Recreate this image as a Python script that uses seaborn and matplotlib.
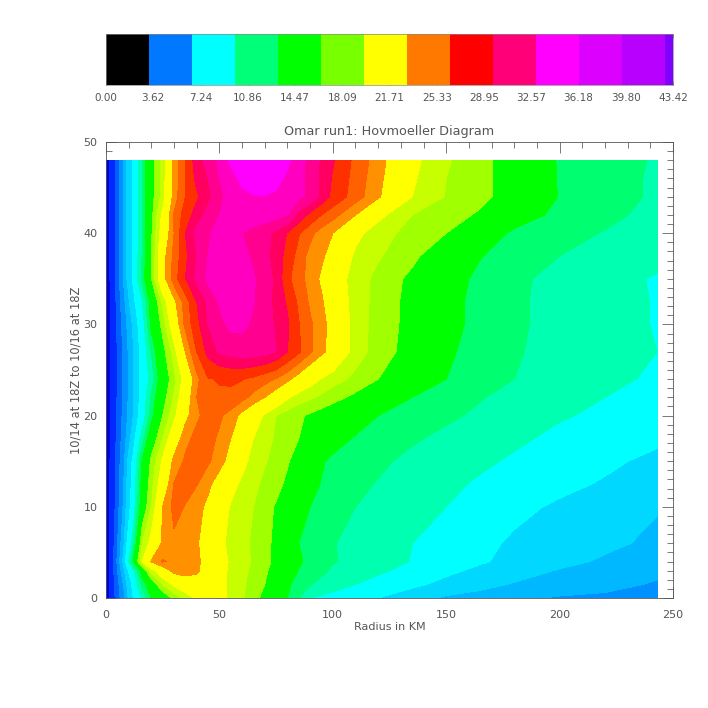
import matplotlib
matplotlib.use("Agg")
import matplotlib.pyplot as plt
from matplotlib.colors import ListedColormap
from matplotlib.ticker import MultipleLocator
import numpy as np
import seaborn as sns

# radius (km) and time columns of the table
radius = [0, 4, 8, 12, 16, 20, 25, 30, 35, 40, 45, 50, 55, 60, 65, 70, 75, 80, 85, 90, 95, 100,
          110, 120, 135, 150, 165, 180, 200, 220, 243]
times = [0, 1.5, 3, 4, 6, 10, 12.5, 15, 17.5, 20, 22, 24, 27, 30, 32.5, 35, 37.5, 40, 42, 44, 46, 48]

t00 = [0.3, 2.0, 3.8, 6.5, 9.5, 12.7, 14.7, 16.8, 18.6, 20.4, 21.2, 20.8, 19.3, 18.3, 17.0, 15.7, 14.2, 12.7, 10.9, 9.0, 8.6, 8.2, 7.4, 6.5, 5.5, 4.8, 4.5, 4.2, 3.9, 3.8, 3.6]
t01 = [0.3, 2.1, 4.2, 7.0, 11.5, 14.7, 18.1, 20.5, 21.8, 22.3, 21.7, 20.7, 19.5, 18.4, 17.4, 16.3, 14.7, 13.0, 12.0, 11.0, 10.5, 10.0, 9.0, 8.2, 6.9, 6.0, 5.4, 4.9, 4.6, 4.3, 3.9]
t03 = [0.3, 2.3, 4.9, 8.5, 14.2, 19.0, 22.0, 24.3, 24.6, 23.9, 22.3, 20.7, 19.5, 18.6, 17.7, 16.7, 15.3, 13.8, 12.6, 11.8, 11.2, 10.7, 10.0, 9.4, 8.2, 6.9, 6.1, 5.6, 4.9, 4.6, 4.2]
t04 = [0.3, 2.4, 5.5, 12.7, 19.9, 23.7, 25.5, 24.9, 24.6, 24.0, 22.4, 20.9, 19.6, 18.7, 17.9, 16.9, 15.8, 14.4, 13.0, 12.2, 11.5, 11.0, 10.5, 10.0, 8.9, 7.8, 6.7, 6.0, 5.4, 4.8, 4.2]
t06 = [0.3, 2.2, 5.0, 10.0, 18.1, 20.7, 23.9, 24.9, 24.6, 23.8, 22.0, 20.5, 19.3, 18.6, 17.8, 16.9, 15.8, 14.2, 12.7, 12.0, 11.4, 11.0, 10.4, 9.9, 9.0, 8.0, 7.0, 6.2, 5.8, 5.3, 4.7]
t10 = [0.3, 2.0, 4.3, 7.6, 14.5, 18.1, 23.5, 25.9, 25.2, 24.2, 23.0, 21.3, 19.7, 18.9, 18.1, 17.0, 16.1, 15.0, 14.0, 12.7, 12.2, 11.8, 10.9, 10.4, 9.7, 9.0, 8.0, 7.0, 6.2, 5.7, 5.1]
t12 = [0.3, 1.95, 4.1, 7.2, 13.7, 17.5, 21.5, 25.4, 26.0, 25.4, 24.0, 22.4, 20.7, 19.5, 18.6, 17.6, 16.9, 15.9, 14.8, 13.4, 12.6, 12.1, 11.3, 10.8, 10.1, 9.5, 8.7, 7.9, 7.0, 6.3, 5.5]
t15 = [0.3, 1.9, 3.9, 6.9, 12.9, 16.8, 20.3, 24.1, 25.6, 26.0, 25.6, 24.3, 22.6, 20.6, 19.2, 18.3, 17.4, 16.5, 15.4, 14.0, 12.9, 12.3, 11.7, 11.2, 10.5, 9.9, 9.4, 8.7, 7.7, 6.9, 6.0]
t17 = [0.3, 1.8, 3.6, 5.6, 10.0, 14.7, 18.1, 21.7, 24.8, 25.8, 25.9, 25.0, 23.5, 21.7, 19.9, 18.8, 17.8, 17.0, 16.3, 15.4, 14.5, 13.6, 12.5, 11.9, 11.1, 10.5, 9.9, 9.4, 8.5, 7.7, 6.9]
t20 = [0.3, 1.7, 3.4, 5.0, 7.6, 12.0, 16.3, 19.3, 22.8, 25.0, 25.9, 25.6, 24.6, 22.9, 21.3, 19.6, 18.1, 17.2, 16.6, 16.0, 15.4, 14.9, 13.8, 12.7, 12.0, 11.2, 10.6, 10.0, 9.2, 8.6, 7.8]
t22 = [0.3, 1.65, 3.3, 4.9, 7.3, 11.2, 15.3, 18.3, 21.9, 25.3, 26.5, 26.9, 26.8, 25.9, 24.7, 23.5, 22.1, 20.2, 19.0, 18.4, 17.7, 17.0, 15.8, 14.7, 12.7, 11.7, 11.0, 10.4, 9.5, 9.0, 8.3]
t24 = [0.3, 1.6, 3.3, 4.9, 7.2, 9.8, 14.5, 17.5, 21.0, 24.8, 27.0, 27.2, 27.3, 27.2, 26.7, 26.0, 25.2, 24.0, 22.5, 21.0, 19.8, 18.9, 17.6, 16.3, 14.5, 12.7, 11.8, 10.9, 9.9, 9.3, 8.8]
t27 = [0.3, 1.6, 3.3, 4.9, 7.2, 11.0, 15.5, 19.0, 23.6, 27.1, 29.6, 31.0, 31.5, 31.8, 31.8, 31.5, 30.8, 29.0, 27.4, 25.6, 24.0, 22.6, 19.0, 17.3, 15.4, 13.0, 12.0, 11.1, 10.2, 9.5, 9.0]
t30 = [0.3, 1.7, 3.5, 5.2, 7.7, 13.4, 17.0, 21.7, 25.8, 28.4, 30.8, 32.1, 33.0, 33.0, 32.3, 31.7, 30.5, 29.3, 27.2, 25.6, 24.3, 22.5, 19.0, 17.4, 15.6, 13.5, 12.0, 11.2, 10.3, 9.6, 8.9]
t32 = [0.3, 1.8, 3.8, 5.9, 8.9, 13.8, 18.5, 23.0, 26.2, 29.0, 31.2, 32.8, 33.6, 33.5, 32.7, 31.7, 30.2, 28.7, 26.7, 25.0, 23.8, 21.9, 19.0, 17.5, 15.6, 13.5, 12.0, 11.2, 10.3, 9.6, 8.9]
t35 = [0.3, 1.9, 4.2, 6.8, 11.5, 16.2, 22.5, 26.2, 29.0, 31.2, 33.0, 33.8, 34.0, 33.8, 32.8, 31.6, 30.4, 27.6, 25.9, 24.7, 23.1, 21.3, 19.0, 17.6, 15.8, 13.7, 12.2, 11.3, 10.3, 9.7, 8.8]
t37 = [0.3, 1.9, 4.2, 6.8, 11.0, 16.0, 22.6, 25.8, 28.6, 30.8, 32.6, 33.4, 33.6, 33.2, 32.2, 31.4, 29.9, 28.4, 26.3, 24.7, 23.9, 22.5, 19.5, 18.3, 16.8, 14.6, 12.8, 11.9, 10.9, 10.2, 9.6]
t40 = [0.3, 1.9, 4.2, 6.8, 10.8, 16.0, 21.3, 25.3, 29.0, 31.4, 32.4, 33.2, 33.2, 32.6, 32.0, 31.4, 30.3, 28.9, 27.3, 25.8, 24.5, 23.5, 20.5, 18.9, 17.4, 16.3, 14.1, 12.3, 11.5, 10.8, 10.2]
t42 = [0.3, 1.9, 4.2, 6.8, 10.8, 15.7, 20.5, 25.5, 28.0, 29.8, 31.5, 32.6, 33.5, 33.6, 33.8, 33.6, 33.3, 32.6, 30.3, 28.5, 27.1, 26.0, 23.5, 20.5, 18.1, 17.2, 16.0, 13.9, 12.1, 11.3, 10.4]
t44 = [0.3, 1.9, 4.2, 6.8, 10.8, 15.5, 18.8, 24.4, 27.1, 28.7, 30.2, 32.2, 33.2, 34.0, 34.3, 34.3, 34.1, 33.7, 33.0, 32.2, 30.2, 28.5, 26.2, 23.8, 19.9, 18.0, 16.9, 15.2, 12.6, 11.7, 10.6]
t46 = [0.3, 1.9, 4.2, 6.8, 10.8, 15.5, 18.8, 24.2, 27.1, 29.5, 30.8, 32.6, 33.7, 34.8, 35.3, 35.5, 35.0, 34.0, 33.1, 32.0, 30.3, 28.8, 26.4, 24.1, 20.2, 18.1, 17.0, 15.1, 12.5, 11.7, 10.6]
t48 = [0.3, 1.9, 4.2, 6.8, 10.8, 15.5, 18.8, 24.0, 27.1, 30.0, 31.4, 33.0, 34.8, 35.4, 35.8, 36.0, 35.6, 34.8, 33.4, 32.0, 30.5, 29.2, 26.6, 24.4, 20.5, 18.3, 17.0, 15.0, 12.5, 11.7, 10.7]

# filled bands of the plot
levels = [0, 1, 2, 3, 4, 5, 6.5, 9, 10.9, 12.7, 16.3, 18.1, 19.9, 23.5, 25.3, 27.1,
          29, 30.8, 32.6, 34.4, 43.42]
band_colors = ['#0000d8', '#0028ff', '#0060ff', '#0090ff', '#00b8ff', '#00d8ff', '#00ffff',
               '#00ffb0', '#00ff70', '#00ff00', '#a0ff00', '#c8ff00', '#ffff00', '#ff9000',
               '#ff6000', '#ff3000', '#ff0060', '#ff0090', '#ff00c0', '#ff00ff']

# colour bar
bar_colors = ['#000000', '#0078ff', '#00ffff', '#00ff78', '#00ff00', '#78ff00', '#ffff00',
              '#ff7800', '#ff0000', '#ff0078', '#ff00ff', '#dc00ff', '#b800ff', '#8000ff']
bar_labels = ['0.00', '3.62', '7.24', '10.86', '14.47', '18.09', '21.71', '25.33', '28.95',
              '32.57', '36.18', '39.80', '43.42']

text_color = '#555555'

sns.set_theme(style='white', rc={'font.family': 'DejaVu Sans', 'font.size': 7.5,
                                 'axes.edgecolor': text_color, 'axes.linewidth': 0.6,
                                 'xtick.color': text_color, 'ytick.color': text_color,
                                 'text.color': text_color, 'axes.labelcolor': text_color})

fig = plt.figure(figsize=(7.08, 7.08), dpi=100)
ax_bar = fig.add_axes([106 / 708, 1 - 85 / 708, 567 / 708, 51 / 708])
ax = fig.add_axes([106 / 708, 1 - 598 / 708, 567 / 708, 456 / 708])

# colour bar, one row of cells, the last one is cut by the axis limit
sns.heatmap([list(range(len(bar_colors)))], ax=ax_bar, cmap=ListedColormap(sns.color_palette(bar_colors)),
            cbar=False, xticklabels=False, yticklabels=False)
cells = 567 / 43
ax_bar.set_xlim(0, cells)
ax_bar.set_xticks(np.linspace(0, cells, len(bar_labels)))
ax_bar.set_xticklabels(bar_labels, fontsize=7.5, rotation=0)
ax_bar.tick_params(axis='x', direction='in', length=3, width=0.5, top=True, bottom=True, pad=6, color='#444444')
for s in ax_bar.spines.values():
    s.set_visible(True)
    s.set_linewidth(0.5)
    s.set_color('#888888')

# hovmoeller panel
z = np.array([t00, t01, t03, t04, t06, t10, t12, t15, t17, t20, t22, t24, t27, t30, t32, t35, t37, t40, t42, t44, t46, t48])
ax.contourf(radius, times, z, levels=levels, colors=sns.color_palette(band_colors), antialiased=False)
ax.set_xlim(0, 250)
ax.set_ylim(0, 50)
ax.xaxis.set_major_locator(MultipleLocator(50))
ax.xaxis.set_minor_locator(MultipleLocator(10))
ax.yaxis.set_major_locator(MultipleLocator(10))
ax.yaxis.set_minor_locator(MultipleLocator(1))
ax.tick_params(which='major', direction='in', length=8, width=0.5, top=True, right=True, bottom=True, left=True,
               labelsize=8, color='#444444')
ax.tick_params(which='minor', direction='in', length=4, width=0.5, top=True, right=True, bottom=True, left=True,
               color='#444444')
ax.tick_params(axis='x', which='major', pad=9)
ax.tick_params(axis='y', which='major', pad=6)
ax.set_title('Omar run1: Hovmoeller Diagram', fontsize=9.2, pad=5)
ax.set_xlabel('Radius in KM', fontsize=8, labelpad=1)
ax.set_ylabel('10/14 at 18Z to 10/16 at 18Z', fontsize=8.3, labelpad=1)

fig.savefig('out.png', dpi=100, facecolor='white')
